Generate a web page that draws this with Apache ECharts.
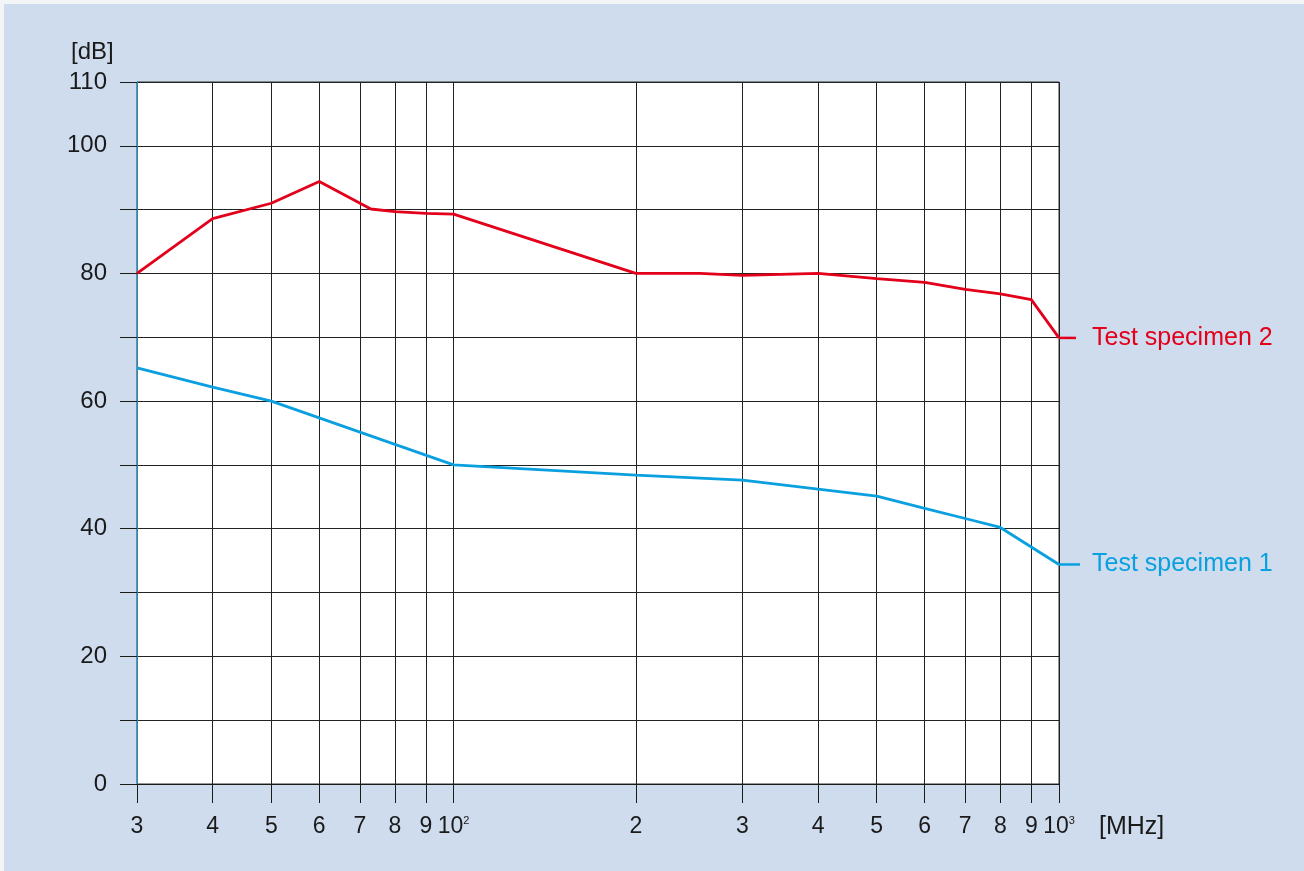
<!DOCTYPE html>
<html>
<head>
<meta charset="utf-8">
<script src="https://cdn.jsdelivr.net/npm/echarts@6/dist/echarts.min.js"></script>
<style>
  html, body { margin: 0; padding: 0; background: #f3f4f6; }
  #chart { position: absolute; left: 4px; top: 4px; width: 1300px; height: 867px; background: #cfdcee; }
</style>
</head>
<body>
<div id="chart"></div>
<script>
// frequency ticks [MHz] on the log axis
const xTicks = [30, 40, 50, 60, 70, 80, 90, 100, 200, 300, 400, 500, 600, 700, 800, 900, 1000]

// Test specimen 2 (red)
const freq2 = [30, 40, 50, 60, 73, 80, 90, 100, 200, 255, 300, 400, 500, 600, 700, 800, 900, 1000]
const db2 = [80.0, 88.6, 91.0, 94.4, 90.1, 89.7, 89.4, 89.3, 80.0, 80.0, 79.7, 80.0, 79.2, 78.6, 77.5, 76.8, 75.9, 69.9]

// Test specimen 1 (blue)
const freq1 = [30, 40, 50, 100, 200, 300, 400, 500, 600, 700, 800, 1000]
const db1 = [65.2, 62.2, 60.0, 50.0, 48.4, 47.6, 46.2, 45.1, 43.2, 41.6, 40.2, 34.4]

const RED = '#e3001b'
const BLUE = '#0aa0e0'
const FONT = "'Liberation Sans', Arial, sans-serif"

const chart = echarts.init(document.getElementById('chart'))

const tickLabel = v => {
  if (v === 100) return '10{s|2}'
  if (v === 1000) return '10{s|3}'
  return String(v < 100 ? v / 10 : v / 100)
}

const endLabel = (name, color, len) => ({
  show: true,
  distance: 0,
  formatter: '{l|}{t|' + name + '}',
  rich: {
    l: { width: len, height: 2.5, backgroundColor: color },
    t: { color: color, fontSize: 25, fontFamily: FONT, padding: [0, 0, 0, 33 - len] }
  }
})

chart.setOption({
  animation: false,
  textStyle: { fontFamily: FONT },
  title: [
    { text: '[dB]', left: 62, top: 31, textStyle: { fontSize: 24, fontWeight: 'normal', color: '#1a1a1a', fontFamily: FONT } },
    { text: '[MHz]', left: 1090, top: 806, textStyle: { fontSize: 25, fontWeight: 'normal', color: '#1a1a1a', fontFamily: FONT } }
  ],
  grid: {
    left: 133, top: 78, right: 245, bottom: 87,
    show: true, backgroundColor: '#ffffff', borderColor: '#333', borderWidth: 1
  },
  xAxis: {
    type: 'log',
    logBase: 10,
    min: 30,
    max: 1000,
    axisLine: { show: true, lineStyle: { color: '#1a1a1a', width: 1 } },
    axisTick: { show: true, length: 19, customValues: xTicks, lineStyle: { color: '#1a1a1a' } },
    axisLabel: {
      customValues: xTicks,
      formatter: tickLabel,
      margin: 31,
      fontSize: 23,
      color: '#1a1a1a',
      fontFamily: FONT,
      rich: { s: { fontSize: 11, verticalAlign: 'top', padding: [0, 0, 11, 0], color: '#1a1a1a' } }
    },
    splitLine: { show: true, lineStyle: { color: '#222', width: 1 } },
    minorTick: { show: false },
    minorSplitLine: { show: false }
  },
  yAxis: {
    type: 'value',
    min: 0,
    max: 110,
    interval: 10,
    axisLine: { show: true, lineStyle: { color: '#1a8ccc', width: 1 } },
    axisTick: { show: true, length: 17, lineStyle: { color: '#1a1a1a' } },
    axisLabel: {
      margin: 30,
      fontSize: 24,
      color: '#1a1a1a',
      fontFamily: FONT,
      padding: [8, 0, 0, 0],
      formatter: v => (v % 20 === 0 || v === 110) ? String(v) : ''
    },
    splitLine: { show: true, lineStyle: { color: '#222', width: 1 } }
  },
  series: [
    {
      name: 'Test specimen 2',
      type: 'line',
      showSymbol: false,
      data: freq2.map((f, i) => [f, db2[i]]),
      lineStyle: { color: RED, width: 2.8 },
      itemStyle: { color: RED },
      endLabel: endLabel('Test specimen 2', RED, 17)
    },
    {
      name: 'Test specimen 1',
      type: 'line',
      showSymbol: false,
      data: freq1.map((f, i) => [f, db1[i]]),
      lineStyle: { color: BLUE, width: 2.8 },
      itemStyle: { color: BLUE },
      endLabel: endLabel('Test specimen 1', BLUE, 21)
    }
  ]
})
</script>
</body>
</html>
